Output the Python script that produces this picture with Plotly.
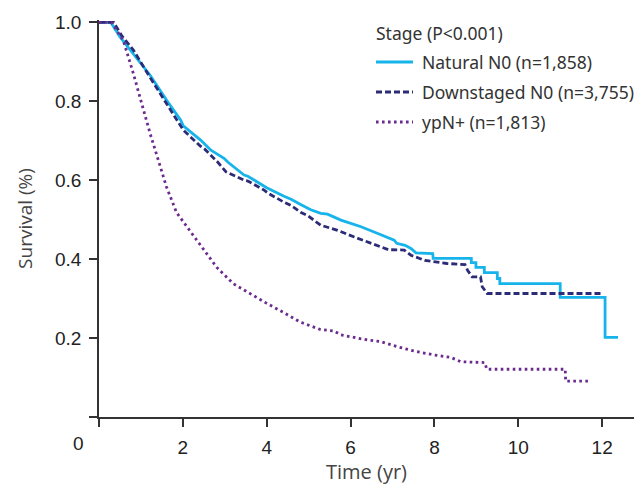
import plotly.graph_objects as go

# Natural N0 (n=1,858)
nat_t = [0, 0.28, 0.50, 0.82, 1.22, 1.61, 1.95, 2.01, 2.43, 2.67, 2.99, 3.07, 3.46, 3.55, 4.0, 4.4, 4.58, 4.82, 4.98,
         5.05, 5.29, 5.45, 5.77, 6.25, 6.65, 7.04, 7.1, 7.3, 7.44, 7.56, 7.96, 7.97, 8.88, 8.88, 8.99, 8.99, 9.19, 9.19,
         9.5, 9.5, 9.56, 9.56, 11.0, 11.0, 12.07, 12.07, 12.38]
nat_s = [1.0, 1.0, 0.963, 0.921, 0.866, 0.803, 0.752, 0.738, 0.701, 0.676, 0.655, 0.646, 0.613, 0.610, 0.581, 0.560,
         0.552, 0.538, 0.529, 0.525, 0.516, 0.514, 0.499, 0.482, 0.465, 0.448, 0.440, 0.435, 0.427, 0.416, 0.414,
         0.402, 0.402, 0.391, 0.391, 0.379, 0.379, 0.366, 0.366, 0.351, 0.351, 0.338, 0.338, 0.303, 0.303, 0.202,
         0.202]

# Downstaged N0 (n=3,755)
down_t = [0, 0.35, 0.55, 0.82, 1.22, 1.61, 1.95, 2.01, 2.41, 2.51, 2.83, 3.03, 3.46, 3.55, 3.94, 4.02, 4.4, 4.58,
          4.82, 4.98, 5.29, 5.69, 6.09, 6.49, 6.8, 6.9, 7.28, 7.44, 7.77, 8.3, 8.73, 8.79, 8.9, 9.1, 9.14, 9.26, 12.0]
down_s = [1.0, 1.0, 0.965, 0.93, 0.86, 0.795, 0.739, 0.727, 0.687, 0.680, 0.646, 0.621, 0.600, 0.598, 0.575, 0.568,
          0.545, 0.536, 0.518, 0.510, 0.486, 0.473, 0.456, 0.440, 0.427, 0.424, 0.423, 0.410, 0.397, 0.389, 0.386,
          0.372, 0.355, 0.355, 0.330, 0.313, 0.313]

# ypN+ (n=1,813)
ypn_t = [0, 0.30, 0.58, 0.82, 1.22, 1.61, 1.85, 2.03, 2.43, 2.81, 3.2, 3.6, 4.0, 4.4, 4.79, 5.27, 5.6, 5.77, 6.41,
         6.72, 7.12, 7.52, 8.0, 8.39, 8.63, 9.2, 9.25, 11.12, 11.13, 11.67]
ypn_s = [1.0, 1.0, 0.954, 0.87, 0.718, 0.583, 0.518, 0.492, 0.431, 0.379, 0.338, 0.312, 0.288, 0.265, 0.241, 0.222,
         0.218, 0.208, 0.195, 0.191, 0.178, 0.167, 0.157, 0.151, 0.140, 0.138, 0.121, 0.121, 0.091, 0.091]

series_names = ["Natural N0 (n=1,858)", "Downstaged N0 (n=3,755)", "ypN+ (n=1,813)"]
legend_title = "Stage (P&lt;0.001)"

x_ticks = [0, 2, 4, 6, 8, 10, 12]
x_tick_text = ["", "2", "4", "6", "8", "10", "12"]
y_ticks = [0, 0.2, 0.4, 0.6, 0.8, 1.0]
y_tick_text = ["", "0.2", "0.4", "0.6", "0.8", "1.0"]

colors = ["#16B4EA", "#2C2B78", "#6B2A8E"]
dashes = ["solid", "6px,3px", "2.6px,3.4px"]
LW = 2.8

fig = go.Figure()
for t, s, name, c, d in zip([nat_t, down_t, ypn_t], [nat_s, down_s, ypn_s], series_names, colors, dashes):
    fig.add_trace(go.Scatter(x=t, y=s, mode="lines", name=name, showlegend=False,
                             line=dict(color=c, width=LW, dash=d)))

axis_common = dict(showgrid=False, zeroline=False, showline=True, linecolor="#333333", linewidth=1.5,
                   ticks="outside", ticklen=8, tickwidth=1.5, tickcolor="#333333", automargin=False,
                   tickfont=dict(family="Liberation Sans, Arial, sans-serif", size=19, color="#222222"))

W, H = 637, 488
ML, MR, MT, MB = 99, 3, 20, 71
PW, PH = W - ML - MR, H - MT - MB

fig.update_layout(
    width=W, height=H,
    margin=dict(l=ML, r=MR, t=MT, b=MB),
    paper_bgcolor="white", plot_bgcolor="white",
    showlegend=False,
    xaxis=dict(range=[0, 12.76], tickvals=x_ticks, ticktext=x_tick_text, ticklabelstandoff=4,
               title=dict(text="Time (yr)", font=dict(family="Open Sans, sans-serif", size=20, color="#444444"),
                          standoff=6),
               **axis_common),
    yaxis=dict(range=[0, 1.006], tickvals=y_ticks, ticktext=y_tick_text, ticklabelstandoff=4,
               title=dict(text="Survival (%)", font=dict(family="Open Sans, sans-serif", size=19, color="#444444"),
                          standoff=17),
               **axis_common),
)


def px(xp):
    return (xp - ML) / PW


def py(yp):
    return (H - MB - yp) / PH


legend_font = dict(family="Noto Sans, sans-serif", size=17.5, color="#333333")
fig.add_annotation(text=legend_title, x=px(374), y=py(33), xref="paper", yref="paper", xanchor="left",
                   yanchor="middle", showarrow=False, font=legend_font)
row_y = [62, 92, 122]
for name, c, d, ry in zip(series_names, colors, dashes, row_y):
    fig.add_shape(type="line", xref="paper", yref="paper", x0=px(376), x1=px(413), y0=py(ry), y1=py(ry),
                  line=dict(color=c, width=LW, dash=d))
    fig.add_annotation(text=name, x=px(420), y=py(ry), xref="paper", yref="paper", xanchor="left",
                       yanchor="middle", showarrow=False, font=legend_font)

fig.add_annotation(text="0", x=0, y=0, xref="x", yref="y", xshift=-21, yshift=-26, showarrow=False,
                   font=dict(family="Liberation Sans, Arial, sans-serif", size=19, color="#222222"))

fig.write_html("out.html", config={"displayModeBar": False},
               post_script="document.body.style.margin='0';document.body.style.padding='0';")
